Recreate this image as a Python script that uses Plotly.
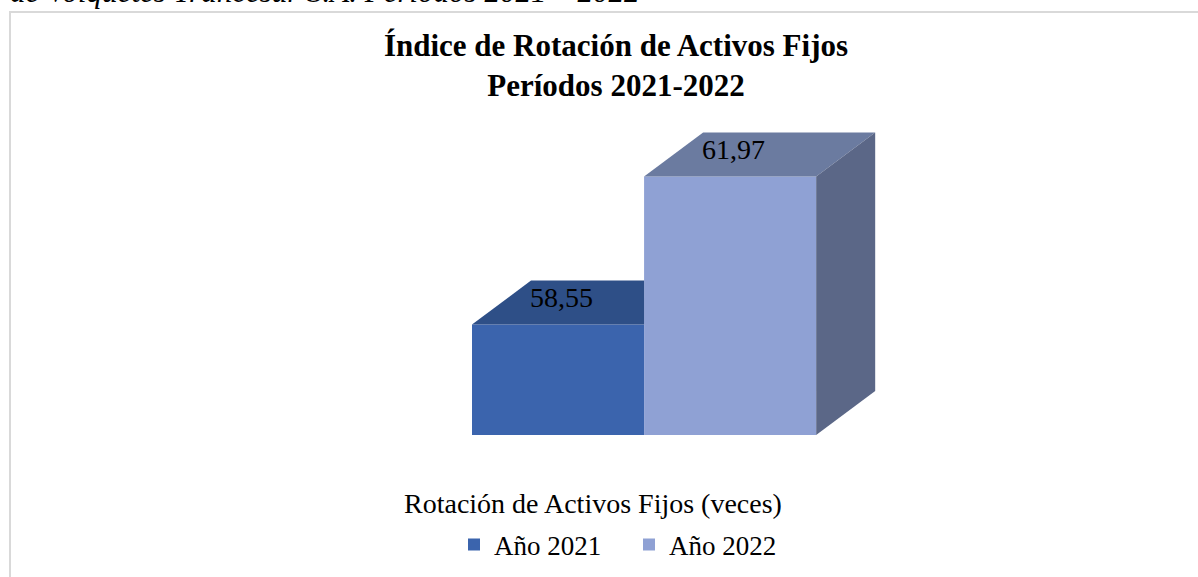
import plotly.graph_objects as go

# Data
categories = ["Año 2021", "Año 2022"]
values = [58.55, 61.97]
value_labels = ["58,55", "61,97"]
axis_label = "Rotación de Activos Fijos (veces)"
title_lines = ["Índice de Rotación de Activos Fijos", "Períodos 2021-2022"]
caption = "de Volquetes Trancesur S.A. Períodos 2021 – 2022"

# Styling
front_colors = ["#3b64ad", "#8fa1d4"]
top_colors = ["#2e4f87", "#6b7ba0"]
side_colors = ["#2a4676", "#5b6787"]
SERIF = "Liberation Serif, Times New Roman, serif"

W, H = 1198, 577
M_L, M_R, M_T, M_B = 472, 313, 132, 142
X_RANGE = [-0.5, 1.9]
Y_RANGE = [56, 63]
BAR_W = 1.0
DEPTH_X = 0.343   # oblique depth, x units
DEPTH_Y = 1.017   # oblique depth, y units

plot_w = W - M_L - M_R
plot_h = H - M_T - M_B


def px_to_paper_x(px):
    return (px - M_L) / plot_w


def px_to_paper_y(py):
    return (H - M_B - py) / plot_h


fig = go.Figure()
n = len(values)

for i, (cat, v) in enumerate(zip(categories, values)):
    x0 = i - BAR_W / 2
    x1 = i + BAR_W / 2
    base = Y_RANGE[0]
    # the next bar's front face hides this bar's right side when it is taller
    hidden_side = i < n - 1 and values[i + 1] >= v + DEPTH_Y

    # front face
    fig.add_trace(go.Bar(
        x=[i], y=[v], width=BAR_W, name=cat,
        marker=dict(color=front_colors[i], line=dict(width=0)),
        hoverinfo="skip",
    ))
    # top face (cut at the neighbouring front face when the side is hidden)
    if hidden_side:
        tx = [x0, x1, x1, x0 + DEPTH_X, x0]
    else:
        tx = [x0, x1, x1 + DEPTH_X, x0 + DEPTH_X, x0]
    ty = [v, v, v + DEPTH_Y, v + DEPTH_Y, v]
    fig.add_trace(go.Scatter(
        x=tx, y=ty, fill="toself", fillcolor=top_colors[i], mode="lines",
        line=dict(width=0, color=top_colors[i]), showlegend=False, hoverinfo="skip",
    ))
    # right side face
    if not hidden_side:
        fig.add_trace(go.Scatter(
            x=[x1, x1 + DEPTH_X, x1 + DEPTH_X, x1, x1],
            y=[base, base + DEPTH_Y, v + DEPTH_Y, v, base],
            fill="toself", fillcolor=side_colors[i], mode="lines",
            line=dict(width=0, color=side_colors[i]), showlegend=False, hoverinfo="skip",
        ))

annotations = []
for i, v in enumerate(values):
    annotations.append(dict(
        x=i + 0.02, y=v + DEPTH_Y * 0.61, xref="x", yref="y",
        text=value_labels[i], showarrow=False,
        font=dict(family=SERIF, size=28, color="black"),
    ))

annotations.append(dict(
    x=px_to_paper_x(593), y=px_to_paper_y(503), xref="paper", yref="paper",
    text=axis_label, showarrow=False, xanchor="center", yanchor="middle",
    font=dict(family=SERIF, size=28, color="black"),
))
annotations.append(dict(
    x=px_to_paper_x(8), y=px_to_paper_y(-9), xref="paper", yref="paper",
    text="<i>" + caption + "</i>", showarrow=False, xanchor="left", yanchor="middle",
    font=dict(family=SERIF, size=31, color="black"),
))

fig.update_layout(
    width=W, height=H,
    margin=dict(l=M_L, r=M_R, t=M_T, b=M_B, autoexpand=False),
    paper_bgcolor="white", plot_bgcolor="white",
    barmode="overlay",
    xaxis=dict(range=X_RANGE, visible=False, fixedrange=True),
    yaxis=dict(range=Y_RANGE, visible=False, fixedrange=True),
    title=dict(
        text="<b>" + "<br>".join(title_lines) + "</b>",
        x=616 / W, xanchor="center", xref="container",
        y=1 - 56 / H, yanchor="top", yref="container",
        font=dict(family=SERIF, size=31, color="black"),
    ),
    legend=dict(
        orientation="h", x=px_to_paper_x(629), xanchor="center",
        y=px_to_paper_y(545), yanchor="middle",
        font=dict(family=SERIF, size=27, color="black"),
        traceorder="normal", itemwidth=30, entrywidth=130,
    ),
    annotations=annotations,
    shapes=[dict(
        type="rect", xref="paper", yref="paper",
        x0=px_to_paper_x(10), x1=px_to_paper_x(1240),
        y0=px_to_paper_y(620), y1=px_to_paper_y(12),
        line=dict(color="#d9d9d9", width=2), fillcolor="rgba(0,0,0,0)", layer="below",
    )],
)

fig.write_html("out.html")
